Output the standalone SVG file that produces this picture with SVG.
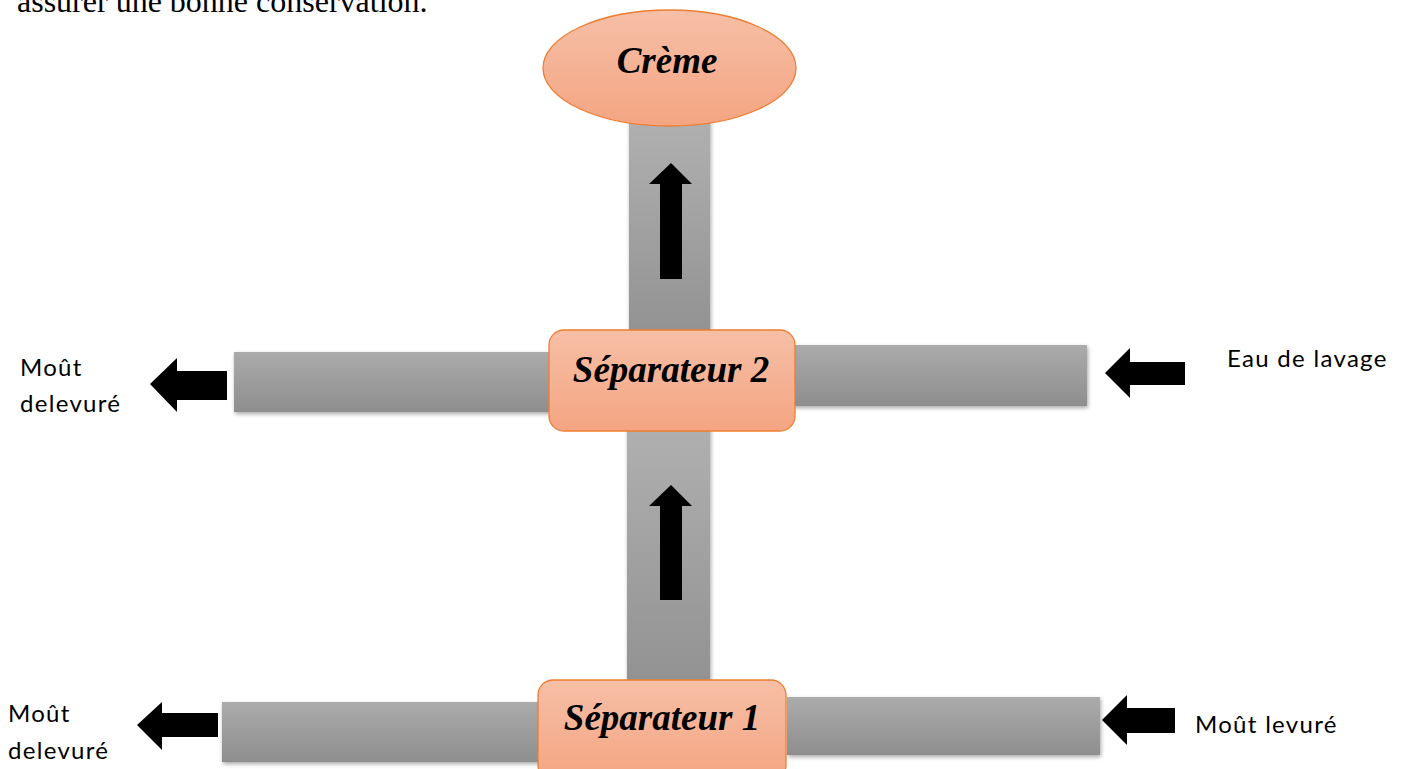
<svg xmlns="http://www.w3.org/2000/svg" width="1403" height="769" viewBox="0 0 1403 769">
<style>
.lbl{font-family:"Lato","Open Sans","Liberation Sans",sans-serif;font-size:24px;letter-spacing:1.3px;fill:#000}
.node{font-family:"Liberation Serif",serif;font-weight:bold;font-style:italic;font-size:37px;fill:#000}
.bar{fill:url(#gray);filter:url(#sh)}
.vbar{fill:url(#grayv);filter:url(#sh)}
.shape{fill:url(#orange);stroke:#ed7d31;stroke-width:1.3}
.arr{fill:#000}
</style>
<defs>
<linearGradient id="gray" x1="0" y1="0" x2="0" y2="1"><stop offset="0" stop-color="#ababab"/><stop offset="1" stop-color="#8e8e8e"/></linearGradient>
<linearGradient id="grayv" x1="0" y1="0" x2="0" y2="1"><stop offset="0" stop-color="#b0b0b0"/><stop offset="1" stop-color="#929292"/></linearGradient>
<linearGradient id="orange" x1="0" y1="0" x2="0" y2="1"><stop offset="0" stop-color="#f6bfa6"/><stop offset="1" stop-color="#f4a582"/></linearGradient>
<filter id="sh" x="-10%" y="-20%" width="120%" height="150%"><feGaussianBlur in="SourceAlpha" stdDeviation="2"/><feOffset dx="1" dy="2"/><feComponentTransfer><feFuncA type="linear" slope="0.35"/></feComponentTransfer><feMerge><feMergeNode/><feMergeNode in="SourceGraphic"/></feMerge></filter>
</defs>
<text x="17" y="12" style="font-family:'Liberation Serif',serif;font-size:32px">assurer une bonne conservation.</text>
<g id="connectors">
<rect class="vbar" x="629" y="120" width="81" height="215"/>
<rect class="vbar" x="627" y="425" width="83" height="258"/>
<rect class="bar" x="234" y="352" width="318" height="60"/>
<rect class="bar" x="792" y="345" width="295" height="61"/>
<rect class="bar" x="222" y="702" width="320" height="60"/>
<rect class="bar" x="787" y="697" width="313" height="58"/>
<polygon class="arr" points="671,163 692,184 682,184 682,279 660,279 660,184 649,184"/>
<polygon class="arr" points="671,485 692,506 682,506 682,600 660,600 660,506 649,506"/>
<polygon class="arr" points="150,384 177,358 177,371 227,371 227,400 177,400 177,412"/>
<polygon class="arr" points="1105,373 1130,348 1130,362 1185,362 1185,385 1130,385 1130,398"/>
<polygon class="arr" points="137,725 162,702 162,713 218,713 218,737 162,737 162,750"/>
<polygon class="arr" points="1102,720 1127,695 1127,708 1175,708 1175,733 1127,733 1127,745"/>
</g>
<g id="creme">
<ellipse class="shape" cx="669.5" cy="68" rx="126.5" ry="58"/>
<text class="node" x="667" y="73" text-anchor="middle">Crème</text>
</g>
<g id="sep2">
<rect class="shape" x="549" y="330" width="246" height="101" rx="15"/>
<text class="node" x="671" y="382" text-anchor="middle">Séparateur 2</text>
</g>
<g id="sep1">
<rect class="shape" x="538" y="680" width="248" height="100" rx="15"/>
<text class="node" x="662" y="730" text-anchor="middle">Séparateur 1</text>
</g>
<g id="labels">
<text class="lbl" x="20" y="376">Moût</text>
<text class="lbl" x="20" y="412">delevuré</text>
<text class="lbl" x="1227" y="367">Eau de lavage</text>
<text class="lbl" x="8" y="722">Moût</text>
<text class="lbl" x="8" y="759">delevuré</text>
<text class="lbl" x="1195" y="733">Moût levuré</text>
</g>
</svg>
